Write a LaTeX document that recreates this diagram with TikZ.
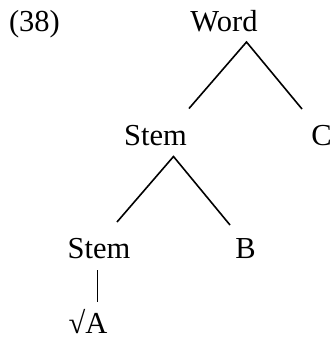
\documentclass[tikz,border=0pt]{standalone}
\usepackage{fontspec}
\setmainfont{Liberation Serif}
\begin{document}
\begin{tikzpicture}[x=1pt,y=-1pt,
  lbl/.style={anchor=base,inner sep=0pt,font=\fontsize{30.5}{36}\selectfont},
  edge/.style={line width=1.6pt}]
\useasboundingbox (0,0) rectangle (331,341);
\node[lbl] (ex) at (34.5,31) {(38)};
\node[lbl] (word) at (224,31) {Word};
\node[lbl] (stem1) at (155.5,145) {Stem};
\node[lbl] (c) at (321.5,145) {C};
\node[lbl] (stem2) at (99,258) {Stem};
\node[lbl] (b) at (245.5,258) {B};
\node[lbl] (root) at (88,333) {√A};
\coordinate (wtop) at (246.5,42);
\coordinate (wl) at (189,108.5);
\coordinate (wr) at (302,109);
\coordinate (stop) at (173.5,156.5);
\coordinate (sl) at (117,222);
\coordinate (sr) at (230,225);
\coordinate (vt) at (97.5,270);
\coordinate (vb) at (97.5,302);
\draw[edge] (wl) -- (wtop) -- (wr);
\draw[edge] (sl) -- (stop) -- (sr);
\draw[edge] (vt) -- (vb);
\end{tikzpicture}
\end{document}
